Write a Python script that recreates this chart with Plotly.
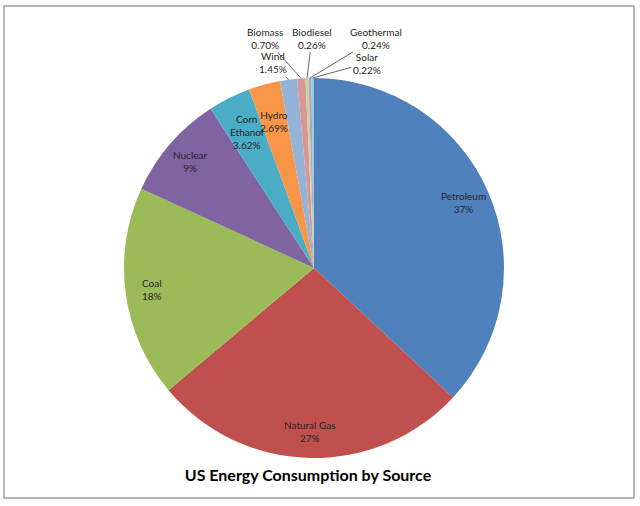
import math
import plotly.graph_objects as go

# US energy consumption shares (percent), clockwise from 12 o'clock
sources = ['Petroleum', 'Natural Gas', 'Coal', 'Nuclear', 'Corn<br>Ethanol', 'Hydro',
           'Wind', 'Biomass', 'Biodiesel', 'Geothermal', 'Solar']
shares = [37, 27, 18, 9, 3.62, 2.69, 1.45, 0.70, 0.26, 0.24, 0.22]
colors = ['#4F81BD', '#C0504D', '#9BBB59', '#8064A2', '#4BACC6', '#F79646',
          '#95B3D7', '#D99694', '#C3D69B', '#B3A2C7', '#93CDDD']

# offsets (px) of the outside labels from their slice edge, tiny slices only
callout_offsets = {'Wind': (-16, -17), 'Biomass': (-36, -40), 'Biodiesel': (5, -40),
                   'Geothermal': (66, -40), 'Solar': (54, -15)}

W, H = 640, 506
mar = dict(l=4, r=6, t=6, b=8)
pw = W - mar['l'] - mar['r']
ph = H - mar['t'] - mar['b']
R = 190  # pie radius in px
cx, cy = (314 - mar['l']) / pw, (H - mar['b'] - 268) / ph

pct_text = [f'{v:.2f}%' if v < 5 else f'{v:g}%' for v in shares]

fig = go.Figure()
fig.add_trace(go.Pie(
    labels=sources,
    values=shares,
    textinfo='none',
    sort=False,
    direction='clockwise',
    rotation=0,
    marker=dict(colors=colors, line=dict(width=0)),
    showlegend=False,
    hovertemplate='%{label}: %{value}%<extra></extra>',
    domain=dict(x=[cx - R / pw, cx + R / pw], y=[cy - R / ph, cy + R / ph]),
))

total = sum(shares)
annotations = []
cum = 0
for name, v, txt in zip(sources, shares, pct_text):
    mid = (cum + v / 2) / total * 2 * math.pi
    cum += v
    dx, dy = math.sin(mid), math.cos(mid)
    label = f'{name}<br>{txt}'
    common = dict(xref='paper', yref='paper', x=cx, y=cy, text=label,
                  font=dict(family='Lato', size=10, color='#262626'))
    if name in callout_offsets:
        ax, ay = callout_offsets[name]
        annotations.append(dict(common, xshift=R * dx, yshift=R * dy,
                                showarrow=True, arrowhead=0, arrowwidth=0.8,
                                arrowcolor='#404040', ax=ax, ay=ay, standoff=0))
    else:
        k = 0.86 if v > 5 else 0.8
        annotations.append(dict(common, xshift=k * R * dx, yshift=k * R * dy,
                                showarrow=False))

fig.update_layout(
    width=W, height=H,
    margin=dict(mar, autoexpand=False),
    paper_bgcolor='white',
    plot_bgcolor='white',
    title=dict(text='<b>US Energy Consumption by Source</b>',
               x=(308 - mar['l']) / pw, xref='paper', xanchor='center',
               y=1 - 475 / H, yanchor='middle',
               font=dict(family='Lato', size=16, color='#000000')),
    annotations=annotations,
    shapes=[dict(type='rect', xref='paper', yref='paper', x0=0, x1=1, y0=0, y1=1,
                 line=dict(color='#A0A0A0', width=1.5))],
)

# drop the page's default body margin so the figure sits at the window origin
fig.write_html('out.html', config={'displayModeBar': False},
               post_script="document.body.style.margin='0';")
